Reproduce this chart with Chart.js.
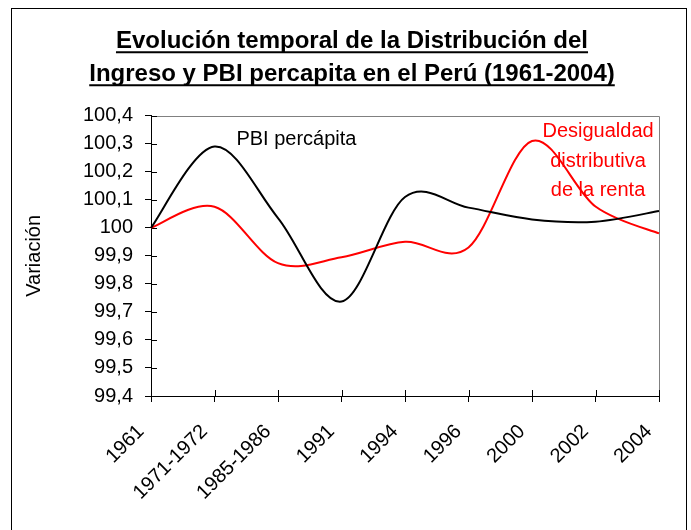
<!DOCTYPE html>
<html>
<head>
<meta charset="utf-8">
<script src="https://cdn.jsdelivr.net/npm/chart.js@4/dist/chart.umd.min.js"></script>
<style>
html,body{margin:0;padding:0;background:#fff;}
#wrap{position:relative;width:691px;height:530px;}
canvas{display:block;}
</style>
</head>
<body>
<div id="wrap"><canvas id="c" width="691" height="530"></canvas></div>
<script>
// ---- data ----
const categories = ['1961', '1971-1972', '1985-1986', '1991', '1994', '1996', '2000', '2002', '2004'];
const pbiPercapita = [100.00, 100.29, 100.035, 99.737, 100.11, 100.072, 100.03, 100.022, 100.06];
const desigualdad  = [100.00, 100.075, 99.874, 99.895, 99.95, 99.93, 100.31, 100.076, 99.98];
const titleLines = ['Evolución temporal de la Distribución del', 'Ingreso y PBI percapita en el Perú (1961-2004)'];
const yAxisTitle = 'Variación';
const pbiLabel = ['PBI percápita'];
const desigLabel = ['Desigualdad', 'distributiva', 'de la renta'];
const yMin = 99.4, yMax = 100.4, yStep = 0.1;

// ---- layout constants ----
const FONT = '"Liberation Sans", Arial, sans-serif';
const TITLE_SIZE = 24, TITLE_LH = 33, TITLE_PT = 24.7, TITLE_PB = 25;

function fmt(v) {
  return (Math.round(v * 10) / 10).toString().replace('.', ',');
}

// Excel-style smoothing (Catmull-Rom control points from the library's own point pixels)
const smoothing = {
  id: 'smoothing',
  beforeDatasetDraw(chart, args) {
    const meta = args.meta;
    const pts = meta.data;
    const n = pts.length;
    for (let i = 0; i < n; i++) {
      const a = pts[Math.max(i - 1, 0)], p = pts[i], b = pts[Math.min(i + 1, n - 1)];
      const dx = (b.x - a.x) / 6, dy = (b.y - a.y) / 6;
      p.cp1x = p.x - dx; p.cp1y = p.y - dy;
      p.cp2x = p.x + dx; p.cp2y = p.y + dy;
    }
    if (meta.dataset) { meta.dataset._pointsUpdated = true; meta.dataset._path = undefined; }
  }
};

const deco = {
  id: 'deco',
  beforeDraw(chart) {
    const ctx = chart.ctx;
    ctx.save();
    ctx.fillStyle = '#fff';
    ctx.fillRect(0, 0, chart.width, chart.height);
    ctx.restore();
  },
  beforeDatasetsDraw(chart) {
    const { ctx, chartArea: a, scales } = chart;
    ctx.save();
    ctx.strokeStyle = '#808080';
    ctx.lineWidth = 1;
    ctx.beginPath();
    ctx.moveTo(a.left, Math.round(a.top) + 0.5);
    ctx.lineTo(Math.round(a.right) + 0.5, Math.round(a.top) + 0.5);
    ctx.lineTo(Math.round(a.right) + 0.5, a.bottom);
    ctx.stroke();
    ctx.strokeStyle = '#000';
    ctx.beginPath();
    scales.y.ticks.forEach((t, i) => {
      const y = Math.round(scales.y.getPixelForTick(i)) + 0.5;
      ctx.moveTo(a.left, y); ctx.lineTo(a.left + 6, y);
    });
    scales.x.ticks.forEach((t, i) => {
      const x = Math.round(scales.x.getPixelForTick(i)) + 0.5;
      ctx.moveTo(x, a.bottom); ctx.lineTo(x, a.bottom - 6);
    });
    ctx.stroke();
    ctx.restore();
  },
  afterDraw(chart) {
    const { ctx, scales } = chart;
    ctx.save();
    // outer frame
    ctx.strokeStyle = '#000';
    ctx.lineWidth = 1;
    ctx.strokeRect(11.5, 8.5, 675, 530);
    // title underline
    const tb = chart.titleBlock;
    const cx = (tb.left + tb.right) / 2;
    ctx.font = 'bold ' + TITLE_SIZE + 'px ' + FONT;
    ctx.lineWidth = 2;
    titleLines.forEach((t, i) => {
      const w = ctx.measureText(t).width;
      const y = tb.top + TITLE_PT + TITLE_LH / 2 + i * TITLE_LH + 11;
      ctx.beginPath();
      ctx.moveTo(cx - w / 2, y); ctx.lineTo(cx + w / 2, y);
      ctx.stroke();
    });
    // series annotations
    ctx.font = '20px ' + FONT;
    ctx.textAlign = 'center';
    ctx.textBaseline = 'alphabetic';
    ctx.fillStyle = '#000';
    pbiLabel.forEach((t) => {
      ctx.fillText(t, scales.x.getPixelForValue(2.29), scales.y.getPixelForValue(100.295));
    });
    ctx.fillStyle = '#ff0000';
    const desigY = [100.323, 100.218, 100.114];
    desigLabel.forEach((t, i) => {
      ctx.fillText(t, scales.x.getPixelForValue(7.04), scales.y.getPixelForValue(desigY[i]));
    });
    ctx.restore();
  }
};

new Chart(document.getElementById('c'), {
  type: 'line',
  data: {
    labels: categories,
    datasets: [
      { label: 'PBI percápita', data: pbiPercapita, borderColor: '#000000', borderWidth: 2, pointRadius: 0, tension: 0.33, fill: false },
      { label: 'Desigualdad distributiva de la renta', data: desigualdad, borderColor: '#ff0000', borderWidth: 2, pointRadius: 0, tension: 0.33, fill: false }
    ]
  },
  options: {
    responsive: false,
    devicePixelRatio: 1,
    animation: false,
    layout: { padding: { left: 13, right: 0, top: 0, bottom: 0 } },
    plugins: {
      legend: { display: false },
      tooltip: { enabled: false },
      title: {
        display: true,
        text: titleLines,
        color: '#000',
        font: { family: FONT, size: TITLE_SIZE, weight: 'bold', lineHeight: TITLE_LH / TITLE_SIZE },
        padding: { top: TITLE_PT, bottom: TITLE_PB }
      }
    },
    scales: {
      x: {
        type: 'category',
        offset: false,
        grid: { display: true, drawOnChartArea: false, drawTicks: true, tickLength: 6, color: '#000' },
        border: { display: true, color: '#000', width: 1 },
        ticks: { color: '#000', font: { family: FONT, size: 20 }, minRotation: 45, maxRotation: 45, autoSkip: false, padding: 18, labelOffset: -10 },
        afterFit(s) { s.height = 134; s.paddingLeft = 0; s.paddingRight = 0; }
      },
      y: {
        type: 'linear',
        position: 'left',
        min: yMin, max: yMax,
        grid: { display: true, drawOnChartArea: false, drawTicks: true, tickLength: 6, color: '#000' },
        border: { display: true, color: '#000', width: 1 },
        ticks: { stepSize: yStep, color: '#000', font: { family: FONT, size: 20 }, padding: 12, callback: (v) => fmt(v) },
        title: { display: true, text: yAxisTitle, color: '#000', font: { family: FONT, size: 20 }, padding: { top: 9, bottom: 0 } },
        afterFit(s) { s.width = 138; }
      },
      yR: {
        type: 'linear',
        position: 'right',
        display: true,
        min: yMin, max: yMax,
        grid: { display: false, drawTicks: false },
        border: { display: false },
        ticks: { display: false },
        afterFit(s) { s.width = 32; }
      }
    }
  },
  plugins: [smoothing, deco]
});
</script>
</body>
</html>
